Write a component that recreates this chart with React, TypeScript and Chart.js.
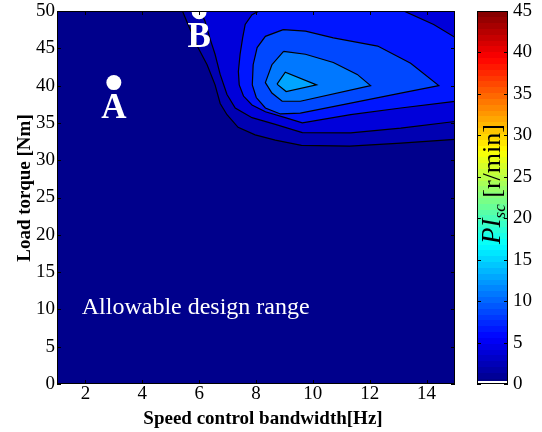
import React, { useEffect, useRef } from "react";
import { Chart, registerables } from "chart.js";

Chart.register(...registerables);

// ---------- data ----------
const xRange = [1, 15];
const yRange = [0, 50];
const colorbarRange = [0, 45];
const xTickValues = [2, 4, 6, 8, 10, 12, 14];
const yTickValues = [0, 5, 10, 15, 20, 25, 30, 35, 40, 45, 50];
const colorbarTicks = [0, 5, 10, 15, 20, 25, 30, 35, 40, 45];

// fill colours of the contour bands, lowest band first
const levelColors = ["#00008C", "#0000B2", "#0000DA", "#0016FF", "#0048FF", "#0078FF", "#00A5FF"];

// open contour lines (from the top edge to the right edge)
const contourLevel1 = [
  [5.39, 50.2], [5.61, 48.2], [5.96, 45.1], [6.28, 42.8], [6.56, 40.1], [6.74, 37.6],
  [6.98, 36.1], [7.37, 34.4], [7.97, 33.4], [8.68, 32.7], [9.6, 32.0], [11.3, 31.9],
  [13.1, 32.3], [15.03, 32.8],
];
const contourLevel2 = [
  [6.03, 50.2], [6.21, 48.6], [6.39, 46.2], [6.56, 44.2], [6.74, 41.5], [6.98, 38.8],
  [7.27, 37.0], [7.86, 35.7], [8.68, 34.8], [9.63, 33.7], [11.33, 33.65], [13.09, 34.3],
  [15.03, 35.2],
];
const contourLevel3Lower = [
  [8.21, 50.2], [7.86, 49.5], [7.62, 48.2], [7.53, 46.4], [7.44, 44.2], [7.38, 41.9],
  [7.41, 40.1], [7.56, 38.6], [7.86, 37.4], [8.33, 36.5], [9.03, 35.7], [9.63, 35.0],
  [11.33, 36.1], [13.09, 37.0], [15.03, 37.9],
];
const contourLevel3Upper = [[15.03, 46.4], [14.25, 48.2], [13.2, 50.0], [13.15, 50.2]];
// closed contour rings
const contourLevel4 = [
  [8.96, 47.5], [9.74, 47.3], [10.72, 46.4], [12.28, 45.3], [13.44, 43.0], [14.43, 40.0],
  [13.09, 38.98], [11.33, 37.66], [9.56, 36.3], [8.86, 36.2], [8.33, 37.0], [8.01, 38.4],
  [7.87, 40.1], [7.9, 42.8], [8.04, 45.1], [8.33, 46.6], [8.96, 47.5],
];
const contourLevel5 = [
  [8.97, 44.6], [9.74, 44.2], [10.72, 43.1], [11.56, 41.5], [12.03, 40.0], [9.56, 37.9],
  [8.92, 37.9], [8.56, 39.0], [8.33, 40.4], [8.56, 42.8], [8.97, 44.6],
];
const contourLevel6 = [[8.74, 40.2], [9.03, 41.8], [10.13, 40.1], [9.06, 39.2], [8.74, 40.2]];

const markerNames = ["A", "B"];
const markerX = [3, 6];
const markerY = [40.4, 49.9];

const regionLabel = "Allowable design range";
const regionLabelAt = [1.87, 10.2];

const xTitle = "Speed control bandwidth[Hz]";
const yTitle = "Load torque [Nm]";
const colorbarSymbol = "PI";
const colorbarSub = "sc";
const colorbarUnit = " [r/min]";

// ---------- helpers ----------
const OUT_X = xRange[1] + 1;
const OUT_Y = yRange[1] + 1;

function fromTopToRight(line: number[][]) {
  const first = line[0];
  const last = line[line.length - 1];
  return [[first[0], OUT_Y], ...line, [OUT_X, last[1]], [OUT_X, OUT_Y], [first[0], OUT_Y]];
}
function band(lower: number[][], upper: number[][]) {
  const a0 = lower[0];
  const a1 = lower[lower.length - 1];
  const b0 = upper[0];
  const b1 = upper[upper.length - 1];
  return [[a0[0], OUT_Y], ...lower, [OUT_X, a1[1]], [OUT_X, b0[1]], ...upper, [b1[0], OUT_Y], [a0[0], OUT_Y]];
}
function jet(v: number) {
  const c = (t: number) => Math.round(255 * Math.max(0, Math.min(1, t)));
  return `rgb(${c(1.5 - Math.abs(4 * v - 3))},${c(1.5 - Math.abs(4 * v - 2))},${c(1.5 - Math.abs(4 * v - 1))})`;
}

const SERIF = '"Liberation Serif", "Times New Roman", serif';

const decor = {
  id: "decor",
  beforeDatasetsDraw(chart: any) {
    const { ctx, chartArea: a } = chart;
    ctx.save();
    ctx.fillStyle = levelColors[0];
    ctx.fillRect(a.left, a.top, a.right - a.left, a.bottom - a.top);
    ctx.restore();
  },
  afterDatasetsDraw(chart: any) {
    const { ctx, chartArea: a, scales } = chart;
    const xs = scales.x;
    const ys = scales.y;
    ctx.save();
    // marker letters
    ctx.fillStyle = "#fff";
    ctx.font = `bold 35px ${SERIF}`;
    ctx.textAlign = "center";
    ctx.textBaseline = "alphabetic";
    markerNames.forEach((n, i) => {
      ctx.fillText(n, xs.getPixelForValue(markerX[i]), ys.getPixelForValue(markerY[i]) + 35);
    });
    // region label
    ctx.font = `24px ${SERIF}`;
    ctx.textAlign = "left";
    ctx.textBaseline = "middle";
    ctx.fillText(regionLabel, xs.getPixelForValue(regionLabelAt[0]), ys.getPixelForValue(regionLabelAt[1]));
    // frame
    ctx.strokeStyle = "#000";
    ctx.lineWidth = 1;
    ctx.strokeRect(a.left + 0.5, a.top + 0.5, a.right - a.left - 1, a.bottom - a.top - 1);
    // inward ticks
    const tl = 4;
    ctx.beginPath();
    xTickValues.forEach((v) => {
      const px = Math.round(xs.getPixelForValue(v)) + 0.5;
      ctx.moveTo(px, a.bottom);
      ctx.lineTo(px, a.bottom - tl);
      ctx.moveTo(px, a.top);
      ctx.lineTo(px, a.top + tl);
    });
    yTickValues.forEach((v) => {
      const py = Math.round(ys.getPixelForValue(v)) + 0.5;
      ctx.moveTo(a.left, py);
      ctx.lineTo(a.left + tl, py);
      ctx.moveTo(a.right, py);
      ctx.lineTo(a.right - tl, py);
    });
    ctx.stroke();
    ctx.restore();
  },
  afterDraw(chart: any) {
    const { ctx, chartArea: a, scales } = chart;
    const cb = scales.cb;
    const top = Math.round(cb.getPixelForValue(colorbarRange[1]));
    const bottom = Math.round(cb.getPixelForValue(colorbarRange[0]));
    const left = Math.round(a.right) + 22;
    const w = 31;
    ctx.save();
    const n = 64;
    for (let i = 0; i < n; i++) {
      const y0 = bottom - ((bottom - top) * i) / n;
      const y1 = bottom - ((bottom - top) * (i + 1)) / n;
      ctx.fillStyle = jet((i + 0.5) / n);
      ctx.fillRect(left, Math.floor(y1), w, Math.ceil(y0) - Math.floor(y1));
    }
    ctx.fillStyle = "#fff";
    ctx.fillRect(left, bottom - 3, w, 3);
    ctx.strokeStyle = "#000";
    ctx.lineWidth = 1;
    ctx.strokeRect(left + 0.5, top + 0.5, w - 1, bottom - top - 1);
    ctx.beginPath();
    colorbarTicks.forEach((v) => {
      const py = Math.round(cb.getPixelForValue(v)) + 0.5;
      ctx.moveTo(left, py);
      ctx.lineTo(left + 4, py);
      ctx.moveTo(left + w, py);
      ctx.lineTo(left + w - 4, py);
    });
    ctx.stroke();
    ctx.fillStyle = "#000";
    ctx.font = `19px ${SERIF}`;
    ctx.textAlign = "left";
    ctx.textBaseline = "middle";
    colorbarTicks.forEach((v) => {
      ctx.fillText(String(v), left + w + 5, cb.getPixelForValue(v));
    });
    // colorbar label (rotated)
    ctx.translate(left + 23, 184);
    ctx.rotate(-Math.PI / 2);
    const big = `italic 27px ${SERIF}`;
    const small = `italic 17px ${SERIF}`;
    const reg = `26px ${SERIF}`;
    ctx.font = big;
    const w1 = ctx.measureText(colorbarSymbol).width;
    ctx.font = small;
    const w2 = ctx.measureText(colorbarSub).width;
    ctx.font = reg;
    const w3 = ctx.measureText(colorbarUnit).width;
    let sx = -(w1 + w2 + w3) / 2;
    ctx.textBaseline = "alphabetic";
    ctx.font = big;
    ctx.fillText(colorbarSymbol, sx, 0);
    sx += w1;
    ctx.font = small;
    ctx.fillText(colorbarSub, sx, 5);
    sx += w2;
    ctx.font = reg;
    ctx.fillText(colorbarUnit, sx, 0);
    ctx.restore();

    // axis titles
    ctx.save();
    ctx.fillStyle = "#000";
    ctx.font = `bold 19px ${SERIF}`;
    ctx.textAlign = "center";
    ctx.textBaseline = "alphabetic";
    ctx.fillText(xTitle, 263, 424);
    ctx.translate(30, 188);
    ctx.rotate(-Math.PI / 2);
    ctx.fillText(yTitle, 0, 0);
    ctx.restore();
  },
};

export default function App() {
  const ref = useRef<HTMLCanvasElement | null>(null);
  useEffect(() => {
    if (!ref.current) return;
    const polys = [
      fromTopToRight(contourLevel1),
      fromTopToRight(contourLevel2),
      band(contourLevel3Lower, contourLevel3Upper),
      contourLevel4,
      contourLevel5,
      contourLevel6,
    ];
    const datasets: any[] = polys.map((p, i) => ({
      type: "line",
      data: p.map(([x, y]) => ({ x, y })),
      showLine: true,
      fill: "shape",
      backgroundColor: levelColors[i + 1],
      borderColor: "#000",
      borderWidth: 1.2,
      pointRadius: 0,
      pointHoverRadius: 0,
      tension: 0,
      order: 20 - i,
      clip: 0,
    }));
    datasets.push({
      type: "line",
      showLine: false,
      data: markerX.map((x, i) => ({ x, y: markerY[i] })),
      pointRadius: 7.5,
      pointBackgroundColor: "#fff",
      pointBorderColor: "#fff",
      pointBorderWidth: 0,
      order: 0,
      clip: 0,
    });
    const chart = new Chart(ref.current, {
      type: "line",
      data: { datasets },
      options: {
        animation: false,
        responsive: false,
        devicePixelRatio: 1,
        layout: { padding: { left: 0, right: 87, top: 11, bottom: 0 } },
        plugins: { legend: { display: false }, tooltip: { enabled: false } },
        scales: {
          x: {
            type: "linear",
            min: xRange[0],
            max: xRange[1],
            grid: { display: false, drawTicks: false },
            border: { display: false },
            ticks: { font: { family: SERIF, size: 19, lineHeight: 1 }, color: "#000", padding: 1, maxRotation: 0, autoSkip: false },
            afterBuildTicks: (s: any) => {
              s.ticks = xTickValues.map((v) => ({ value: v }));
            },
            afterFit: (s: any) => {
              s.height = 48;
              s.paddingLeft = 0;
              s.paddingRight = 0;
            },
          },
          y: {
            type: "linear",
            min: yRange[0],
            max: yRange[1],
            grid: { display: false, drawTicks: false },
            border: { display: false },
            ticks: { font: { family: SERIF, size: 19, lineHeight: 1 }, color: "#000", padding: 2, autoSkip: false },
            afterBuildTicks: (s: any) => {
              s.ticks = yTickValues.map((v) => ({ value: v }));
            },
            afterFit: (s: any) => {
              s.width = 57;
              s.paddingTop = 0;
              s.paddingBottom = 0;
            },
          },
          cb: {
            type: "linear",
            position: "right",
            min: colorbarRange[0],
            max: colorbarRange[1],
            display: false,
          },
        },
      } as any,
      plugins: [decor],
    } as any);
    return () => chart.destroy();
  }, []);
  return (
    <div style={{ position: "absolute", left: 0, top: 0, width: 542, height: 432, background: "#fff" }}>
      <canvas ref={ref} width={542} height={432} style={{ display: "block" }} />
    </div>
  );
}
